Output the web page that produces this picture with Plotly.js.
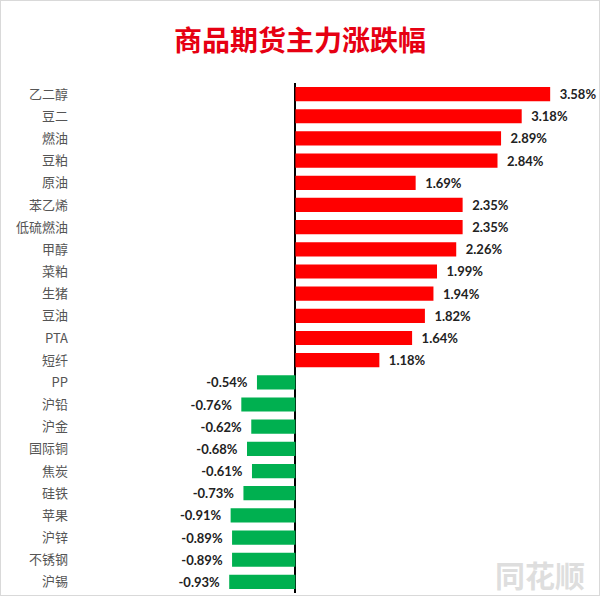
<!DOCTYPE html>
<html><head><meta charset="utf-8">
<script src="https://cdn.plot.ly/plotly-3.0.1.min.js"></script>
<style>body{margin:0;background:#fff}#chart{width:600px;height:596px;box-sizing:border-box;border:1px solid #d9d9d9}</style>
</head><body><div id="chart"></div>
<script>
const categories = ["乙二醇","豆二","燃油","豆粕","原油","苯乙烯","低硫燃油","甲醇","菜粕","生猪","豆油","PTA","短纤","PP","沪铅","沪金","国际铜","焦炭","硅铁","苹果","沪锌","不锈钢","沪锡"];
const changes = [3.58,3.18,2.89,2.84,1.69,2.35,2.35,2.26,1.99,1.94,1.82,1.64,1.18,-0.54,-0.76,-0.62,-0.68,-0.61,-0.73,-0.91,-0.89,-0.89,-0.93];
const labels = changes.map(v => v >= 0 ? "\u2002" + v.toFixed(2) + "%" : v.toFixed(2) + "%\u2002");
const colors = changes.map(v => v >= 0 ? "#ff0000" : "#00b050");

const trace = {
  type: "bar", orientation: "h",
  x: changes, y: categories,
  marker: {color: colors},
  text: labels, textposition: "outside", cliponaxis: false, constraintext: "none",
  textfont: {family: "Lato, 'Liberation Sans', sans-serif", size: 13, color: "#222", weight: "bold"},
  hoverinfo: "skip"
};
const layout = {
  width: 598, height: 594,
  margin: {l: 72, r: 4, t: 82, b: 2},
  paper_bgcolor: "#fff", plot_bgcolor: "#fff",
  bargap: 0.36,
  showlegend: false,
  title: {text: "商品期货主力涨跌幅", x: 0.5, xanchor: "center", y: 0.933, yanchor: "middle",
    font: {family: "'Noto Sans CJK SC', sans-serif", size: 28, color: "#e60012", weight: "bold"}},
  xaxis: {range: [-3.125, 4.21], showgrid: false, showticklabels: false, ticks: "",
    zeroline: true, zerolinecolor: "#000", zerolinewidth: 2, fixedrange: true},
  yaxis: {autorange: "reversed", showgrid: false, ticks: "", showline: false, ticklabelstandoff: 4,
    tickfont: {family: "'Noto Sans CJK SC', sans-serif", size: 13, color: "#555"}},
  annotations: [{text: "同花顺", xref: "paper", yref: "paper", x: 0.985, y: -0.01, xanchor: "right", yanchor: "bottom",
    showarrow: false, font: {family: "'Noto Sans CJK SC', sans-serif", size: 30, color: "rgba(190,190,190,0.5)", weight: "bold"}}]
};
Plotly.newPlot("chart", [trace], layout, {displayModeBar: false, staticPlot: true});
</script></body></html>
